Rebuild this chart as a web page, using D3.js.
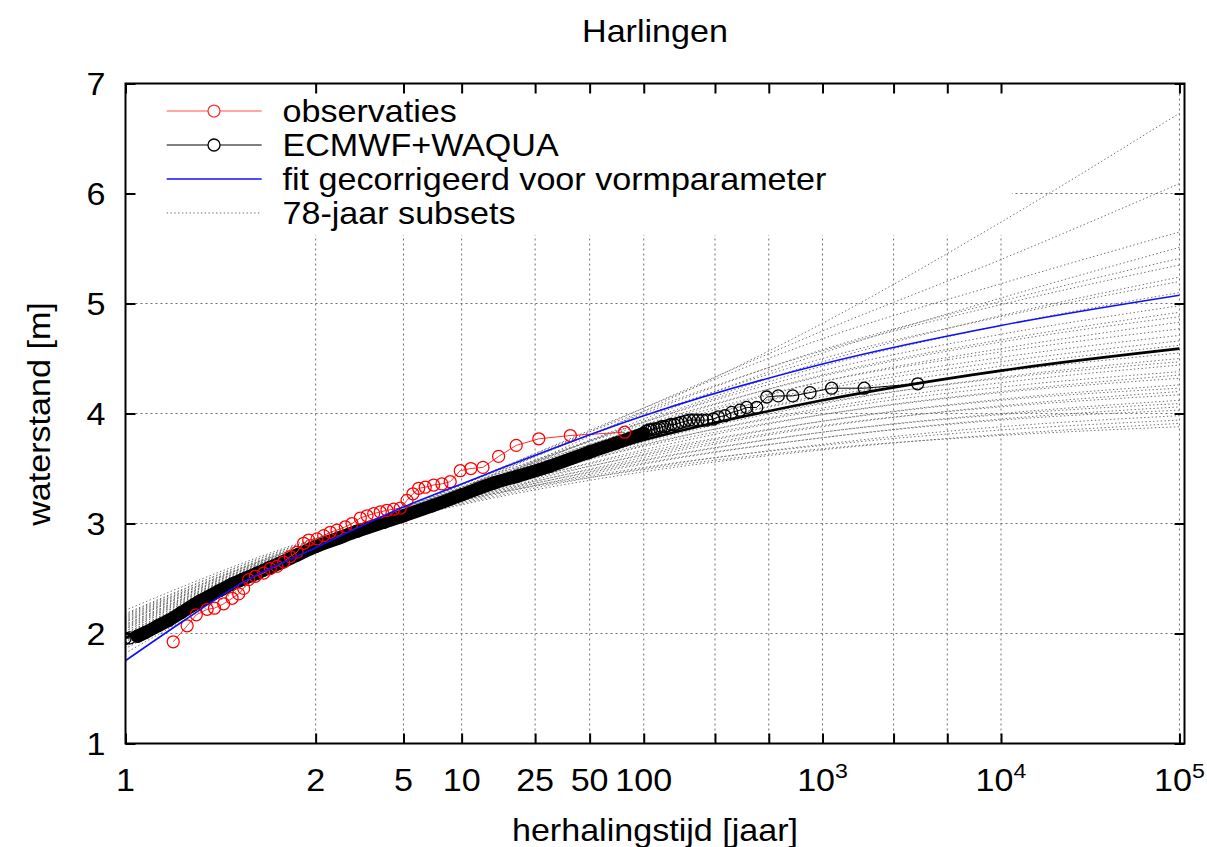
<!DOCTYPE html>
<html><head><meta charset="utf-8">
<script src="https://cdn.jsdelivr.net/npm/d3@7"></script>
<style>
body{margin:0;background:#fff;}
svg{display:block;font-family:"Liberation Sans",Arial,Helvetica,sans-serif;}
</style></head><body>
<svg id="c" width="1207" height="847"></svg>
<script>
// ---------------- data ----------------
const title = "Harlingen";
const xLabel = "herhalingstijd [jaar]";
const yLabel = "waterstand [m]";
const xTickValues = [1, 2, 5, 10, 25, 50, 100, 250, 500, 1000, 2500, 5000, 10000, 100000];
const xTickBase   = ["1","2","5","10","25","50","100","","","10","","","10","10"];
const xTickSup    = ["","","","","","","","","","3","","","4","5"];
const yTickValues = [1, 2, 3, 4, 5, 6, 7];
const legendLabels = ["observaties", "ECMWF+WAQUA", "fit gecorrigeerd voor vormparameter", "78-jaar subsets"];

// observations (return period [jaar], water level [m])
const obsT = [1.013, 1.027, 1.041, 1.064, 1.084, 1.115, 1.150, 1.182, 1.209, 1.239, 1.284, 1.348, 1.405, 1.469, 1.541, 1.619, 1.707, 1.803, 1.882, 2.025, 2.152, 2.290, 2.444, 2.655, 2.843, 3.100, 3.329, 3.579, 3.848, 4.144, 4.470, 4.822, 5.21, 5.58, 5.97, 6.45, 7.13, 7.87, 8.70, 9.83, 11.2, 13.0, 15.8, 19.7, 26.2, 39.1, 78.3];
const obsH = [1.925, 2.07, 2.17, 2.22, 2.23, 2.27, 2.32, 2.36, 2.41, 2.49, 2.52, 2.55, 2.59, 2.61, 2.65, 2.70, 2.74, 2.82, 2.85, 2.86, 2.89, 2.92, 2.94, 2.97, 3.00, 3.05, 3.07, 3.09, 3.105, 3.12, 3.13, 3.14, 3.21, 3.27, 3.32, 3.33, 3.35, 3.36, 3.38, 3.48, 3.50, 3.51, 3.61, 3.71, 3.77, 3.80, 3.83];

// ECMWF+WAQUA (dense part up to T=100, then individual points)
const ecmT = [1.0003, 1.0005, 1.001, 1.002, 1.005, 1.01, 1.02, 1.05, 1.1, 1.15, 1.2, 1.3, 1.4, 1.5, 1.7, 2, 2.5, 3, 4, 5, 7, 10, 15, 20, 30, 50, 70, 100,
  103, 107, 110, 114, 118, 122, 126, 131, 136, 142, 148, 155, 162, 171, 180, 190, 201, 213, 225, 245, 261, 284, 310, 345, 376, 428, 487, 565, 681, 851, 1125, 1713, 3413];
const ecmH = [1.955, 1.96, 1.975, 2.01, 2.07, 2.12, 2.19, 2.30, 2.39, 2.45, 2.49, 2.55, 2.60, 2.64, 2.71, 2.79, 2.87, 2.93, 3.01, 3.07, 3.16, 3.26, 3.37, 3.43, 3.52, 3.65, 3.73, 3.82,
  3.84, 3.85, 3.85, 3.86, 3.86, 3.87, 3.88, 3.88, 3.89, 3.90, 3.90, 3.91, 3.92, 3.93, 3.94, 3.94, 3.94, 3.94, 3.94, 3.95, 3.97, 3.98, 4.01, 4.03, 4.055, 4.055, 4.15, 4.16, 4.16, 4.19, 4.23, 4.23, 4.27];
const ecmDenseMaxT = 100;

// fit through ECMWF+WAQUA (thick black)
const ecmFitT = [1.0003, 1.02, 1.2, 2, 10, 100, 1000, 10000, 100000];
const ecmFitH = [1.96, 2.19, 2.49, 2.79, 3.26, 3.76, 4.12, 4.39, 4.59];

// fit gecorrigeerd voor vormparameter (blue)
const blueFitT = [1.0003, 1.02, 1.2, 2, 5, 10, 100, 1000, 10000, 100000];
const blueFitH = [1.75, 2.10, 2.46, 2.78, 3.15, 3.36, 3.98, 4.45, 4.80, 5.075];

// 78-jaar subsets: levels at these return periods
const subsetT = [1.0003, 2, 10, 100, 1000, 10000, 100000];
const subsetH = [
  [1.82, 2.74, 3.28, 4.02, 4.82, 5.74, 6.73],
  [1.86, 2.76, 3.32, 4.05, 4.75, 5.40, 6.09],
  [1.90, 2.78, 3.35, 4.05, 4.68, 5.18, 5.65],
  [1.88, 2.75, 3.28, 3.95, 4.55, 5.05, 5.51],
  [1.92, 2.77, 3.33, 4.00, 4.58, 5.02, 5.41],
  [1.95, 2.80, 3.36, 4.02, 4.57, 4.99, 5.35],
  [1.90, 2.76, 3.30, 3.93, 4.47, 4.89, 5.24],
  [1.97, 2.80, 3.35, 3.98, 4.50, 4.88, 5.20],
  [1.93, 2.78, 3.31, 3.92, 4.43, 4.80, 5.10],
  [1.98, 2.80, 3.33, 3.92, 4.39, 4.72, 4.98],
  [1.96, 2.79, 3.30, 3.88, 4.35, 4.67, 4.92],
  [2.00, 2.81, 3.33, 3.90, 4.34, 4.65, 4.88],
  [1.94, 2.77, 3.27, 3.84, 4.29, 4.59, 4.83],
  [2.02, 2.82, 3.32, 3.87, 4.29, 4.56, 4.77],
  [1.99, 2.79, 3.28, 3.82, 4.24, 4.51, 4.71],
  [2.04, 2.82, 3.31, 3.84, 4.22, 4.47, 4.66],
  [1.97, 2.78, 3.26, 3.78, 4.17, 4.43, 4.62],
  [2.05, 2.83, 3.30, 3.80, 4.15, 4.38, 4.55],
  [2.00, 2.79, 3.25, 3.74, 4.09, 4.33, 4.50],
  [2.07, 2.83, 3.29, 3.77, 4.10, 4.32, 4.47],
  [2.02, 2.80, 3.24, 3.71, 4.05, 4.28, 4.44],
  [2.08, 2.83, 3.27, 3.72, 4.03, 4.24, 4.38],
  [2.04, 2.80, 3.23, 3.67, 3.99, 4.20, 4.35],
  [2.10, 2.84, 3.27, 3.70, 3.99, 4.19, 4.32],
  [2.06, 2.81, 3.22, 3.63, 3.93, 4.13, 4.26],
  [2.11, 2.84, 3.25, 3.65, 3.93, 4.12, 4.23],
  [2.08, 2.81, 3.21, 3.60, 3.88, 4.07, 4.20],
  [2.13, 2.85, 3.25, 3.62, 3.89, 4.06, 4.17],
  [2.10, 2.82, 3.20, 3.57, 3.83, 4.00, 4.12],
  [2.15, 2.85, 3.23, 3.58, 3.83, 3.99, 4.09],
  [2.12, 2.82, 3.19, 3.54, 3.78, 3.95, 4.06],
  [2.17, 2.86, 3.22, 3.55, 3.78, 3.94, 4.03],
  [2.14, 2.83, 3.18, 3.50, 3.72, 3.88, 3.98],
  [2.18, 2.86, 3.21, 3.51, 3.71, 3.85, 3.94],
  [2.16, 2.83, 3.17, 3.47, 3.67, 3.81, 3.91],
  [2.21, 2.87, 3.21, 3.49, 3.68, 3.80, 3.88]
];

// ---------------- chart ----------------
const svg = d3.select("#c");
const L = 125.5, R = 1184.5, T = 83.5, B = 743.5;
const xMin = -2.087, xMax = 11.578;
const gumbel = t => (t <= 1 ? xMin : -Math.log(-Math.log(1 - 1 / t)));
const xr = d3.scaleLinear().domain([xMin, xMax]).range([L, R]);
const x = t => xr(gumbel(t));
const y = d3.scaleLinear().domain([1, 7]).range([B, T]);
const FS = 31, SX = 1.1;
const R_MARK = 6;

svg.append("defs").append("clipPath").attr("id", "clip")
  .append("rect").attr("x", L).attr("y", T).attr("width", R - L).attr("height", B - T);

// grid
const grid = svg.append("g").attr("stroke", "#707070").attr("stroke-width", 1).attr("stroke-dasharray", "2,3");
xTickValues.filter(v => v > 1).forEach(v => {
  grid.append("line").attr("x1", x(v)).attr("x2", x(v)).attr("y1", T).attr("y2", B);
});
yTickValues.filter(v => v > 1 && v < 7).forEach(v => {
  grid.append("line").attr("x1", L).attr("x2", R).attr("y1", y(v)).attr("y2", y(v));
});

// legend background (masks the grid only)
const legendRight = 1012, legendBottom = 235;
svg.append("rect").attr("x", L + 1.5).attr("y", T + 1.5).attr("width", legendRight - L - 1.5)
  .attr("height", legendBottom - T - 1.5).attr("fill", "#fff");

const plot = svg.append("g").attr("clip-path", "url(#clip)");
const lineGen = (ts, hs, curve) => d3.line().x(i => x(ts[i])).y(i => y(hs[i])).curve(curve || d3.curveLinear)(d3.range(ts.length));

// subsets
const subsetStyle = sel => sel.attr("fill", "none").attr("stroke", "#6e6e6e").attr("stroke-width", 1).attr("stroke-dasharray", "1.4,2.4");
subsetH.forEach(hs => {
  subsetStyle(plot.append("path").attr("d", lineGen(subsetT, hs, d3.curveMonotoneX)));
});

// ECMWF+WAQUA: dense band (overlapping markers), line and markers
const denseIdx = d3.range(ecmT.length).filter(i => ecmT[i] >= 1.001 && ecmT[i] <= ecmDenseMaxT);
plot.append("path")
  .attr("d", d3.line().x(i => x(ecmT[i])).y(i => y(ecmH[i])).curve(d3.curveMonotoneX)(denseIdx))
  .attr("fill", "none").attr("stroke", "#000").attr("stroke-width", 13).attr("stroke-linecap", "round").attr("stroke-linejoin", "round");
plot.append("path").attr("d", lineGen(ecmT, ecmH)).attr("fill", "none").attr("stroke", "#000").attr("stroke-width", 1);
plot.append("path").attr("d", lineGen(ecmFitT, ecmFitH, d3.curveMonotoneX))
  .attr("fill", "none").attr("stroke", "#000").attr("stroke-width", 2.6);
plot.selectAll(".ecm").data(d3.range(ecmT.length)).enter().append("circle")
  .attr("cx", i => x(ecmT[i])).attr("cy", i => y(ecmH[i])).attr("r", R_MARK)
  .attr("fill", "none").attr("stroke", "#000").attr("stroke-width", 1.3);

// observations
plot.append("path").attr("d", lineGen(obsT, obsH)).attr("fill", "none").attr("stroke", "#ff3030").attr("stroke-width", 1);
plot.selectAll(".obs").data(d3.range(obsT.length)).enter().append("circle")
  .attr("cx", i => x(obsT[i])).attr("cy", i => y(obsH[i])).attr("r", R_MARK)
  .attr("fill", "none").attr("stroke", "#ff0000").attr("stroke-width", 1.25);

// blue fit
plot.append("path").attr("d", lineGen(blueFitT, blueFitH, d3.curveMonotoneX))
  .attr("fill", "none").attr("stroke", "#1010ff").attr("stroke-width", 1.6);

// legend
const lg = svg.append("g");
const rowsY = [111, 145, 179, 213];
const lx1 = 166.7, lx2 = 261.7, lm = 214;
lg.append("line").attr("x1", lx1).attr("x2", lx2).attr("y1", rowsY[0]).attr("y2", rowsY[0]).attr("stroke", "#ff5050").attr("stroke-width", 1);
lg.append("circle").attr("cx", lm).attr("cy", rowsY[0]).attr("r", R_MARK).attr("fill", "#fff").attr("stroke", "#ff3030").attr("stroke-width", 1.25);
lg.append("line").attr("x1", lx1).attr("x2", lx2).attr("y1", rowsY[1]).attr("y2", rowsY[1]).attr("stroke", "#000").attr("stroke-width", 1);
lg.append("circle").attr("cx", lm).attr("cy", rowsY[1]).attr("r", R_MARK).attr("fill", "#fff").attr("stroke", "#000").attr("stroke-width", 1.3);
lg.append("line").attr("x1", lx1).attr("x2", lx2).attr("y1", rowsY[2]).attr("y2", rowsY[2]).attr("stroke", "#1010ff").attr("stroke-width", 1.6);
subsetStyle(lg.append("line").attr("x1", lx1).attr("x2", lx2).attr("y1", rowsY[3]).attr("y2", rowsY[3]).attr("stroke", "#9a9a9a"));
legendLabels.forEach((s, i) => {
  lg.append("text").attr("transform", `translate(282.5,${rowsY[i] + 11}) scale(${SX},1)`)
    .attr("font-size", FS).attr("fill", "#000").text(s);
});

// axes ticks (inward, mirrored)
const tickLen = 10;
const axG = svg.append("g");
const xTickPos = xTickValues.map(v => gumbel(v));
axG.append("g").attr("transform", `translate(0,${B})`)
  .call(d3.axisBottom(xr).tickValues(xTickPos).tickSizeInner(-tickLen).tickSizeOuter(0).tickFormat(""));
axG.append("g").attr("transform", `translate(0,${T})`)
  .call(d3.axisTop(xr).tickValues(xTickPos).tickSizeInner(-tickLen).tickSizeOuter(0).tickFormat(""));
axG.append("g").attr("transform", `translate(${L},0)`)
  .call(d3.axisLeft(y).tickValues(yTickValues).tickSizeInner(-tickLen).tickSizeOuter(0).tickFormat(""));
axG.append("g").attr("transform", `translate(${R},0)`)
  .call(d3.axisRight(y).tickValues(yTickValues).tickSizeInner(-tickLen).tickSizeOuter(0).tickFormat(""));
axG.selectAll(".domain").remove();
axG.selectAll(".tick line").attr("stroke", "#000").attr("stroke-width", 2);

// border
svg.append("rect").attr("x", L).attr("y", T).attr("width", R - L).attr("height", B - T)
  .attr("fill", "none").attr("stroke", "#000").attr("stroke-width", 2);

// tick labels
const lab = svg.append("g").attr("fill", "#000");
xTickValues.forEach((v, i) => {
  if (!xTickBase[i]) return;
  const t = lab.append("text").attr("transform", `translate(${x(v)},791) scale(${SX},1)`)
    .attr("text-anchor", "middle").attr("font-size", FS);
  t.append("tspan").text(xTickBase[i]);
  if (xTickSup[i]) t.append("tspan").attr("dy", -13).attr("font-size", 21).text(xTickSup[i]);
});
yTickValues.forEach(v => {
  lab.append("text").attr("transform", `translate(96,${y(v) + 11}) scale(${SX},1)`)
    .attr("text-anchor", "middle").attr("font-size", FS).text(String(v));
});

// titles
svg.append("text").attr("transform", `translate(655,42) scale(${SX},1)`)
  .attr("text-anchor", "middle").attr("font-size", FS).text(title);
svg.append("text").attr("transform", `translate(655,841) scale(${SX},1)`)
  .attr("text-anchor", "middle").attr("font-size", FS).text(xLabel);
svg.append("text").attr("transform", `translate(49.5,414) rotate(-90) scale(${SX},1)`)
  .attr("text-anchor", "middle").attr("font-size", FS).text(yLabel);
</script>
</body></html>
